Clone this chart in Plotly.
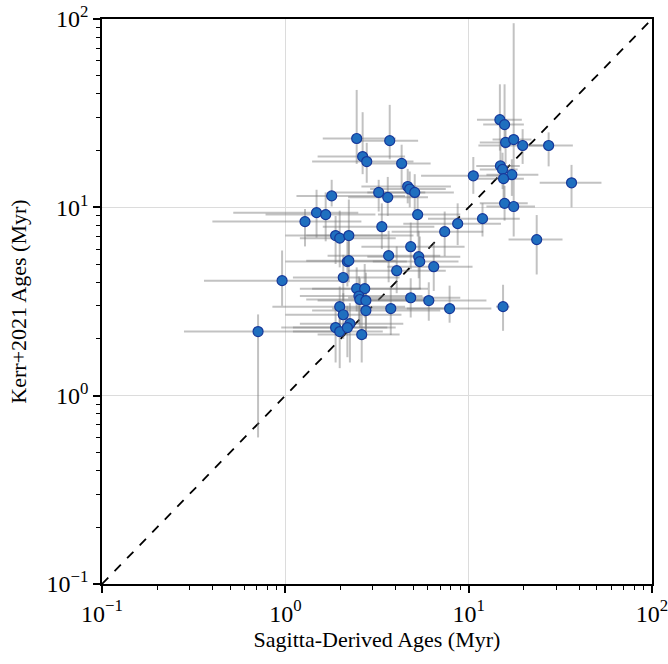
import numpy as np
import plotly.graph_objects as go

# Sagitta-derived ages (Myr) and Kerr+2021 ages (Myr)
sagitta_age = [0.71, 0.96, 1.28, 1.48, 1.66, 1.79, 1.88, 1.98, 2.22, 2.07, 2.18, 2.22,
               2.45, 3.71, 2.64, 2.78, 4.31, 3.23, 3.62, 4.65, 4.77, 5.08, 3.36, 5.27,
               3.66, 4.05, 4.83, 5.34, 5.41, 6.45, 7.40, 8.71, 10.6, 11.9, 14.8, 15.7,
               15.9, 17.6, 19.7, 27.3, 14.9, 15.3, 17.2, 15.5, 36.4, 15.7, 17.6, 23.5,
               7.87, 15.4, 2.45, 2.71, 2.52, 2.55, 2.75, 4.83, 6.06, 1.98, 2.07, 2.75,
               3.76, 1.88, 1.98, 2.25, 2.18, 2.61]
kerr_age = [2.19, 4.08, 8.40, 9.37, 9.15, 11.5, 7.08, 6.86, 7.08, 4.24, 5.15, 5.21,
            23.2, 22.6, 18.6, 17.5, 17.1, 12.0, 11.3, 12.9, 12.5, 12.0, 7.89, 9.15,
            5.54, 4.61, 6.18, 5.47, 5.15, 4.84, 7.43, 8.19, 14.7, 8.71, 29.2, 27.5,
            22.1, 22.9, 21.3, 21.3, 16.6, 15.9, 14.9, 14.2, 13.5, 10.5, 10.1, 6.74,
            2.90, 2.97, 3.70, 3.70, 3.38, 3.24, 3.20, 3.31, 3.20, 2.97, 2.69, 2.83,
            2.90, 2.30, 2.19, 2.41, 2.30, 2.11]
sagitta_lo = [0.28, 0.36, 0.40, 0.52, 0.78, 1.15, 1.0, 1.2, 1.3, 1.1, 1.0, 1.3,
              1.6, 2.5, 1.5, 1.4, 2.7, 1.8, 2.2, 2.6, 2.9, 2.8, 1.6, 3.2,
              1.7, 2.2, 2.6, 2.8, 3.0, 3.6, 3.8, 4.4, 5.5, 6.0, 11.1, 12.0,
              11.5, 13.5, 11.3, 19.0, 11.0, 11.5, 12.5, 11.0, 24.4, 11.5, 12.5, 16.5,
              4.6, 14.1, 1.2, 1.4, 1.2, 1.3, 1.5, 2.2, 2.8, 0.85, 1.0, 1.4,
              1.8, 0.95, 1.1, 1.2, 1.1, 1.5]
sagitta_hi = [1.9, 2.0, 2.6, 2.5, 3.1, 4.5, 3.6, 4.0, 5.0, 4.2, 4.6, 4.0,
              4.0, 5.3, 4.5, 5.0, 6.2, 5.8, 6.0, 8.0, 7.5, 8.3, 6.5, 9.0,
              7.0, 7.5, 9.5, 9.0, 8.8, 10.5, 12.0, 15.0, 16.0, 19.0, 19.5, 20.0,
              20.0, 22.0, 27.0, 37.0, 19.0, 18.5, 24.0, 20.0, 53.0, 21.0, 23.0, 32.5,
              13.3, 16.7, 5.5, 6.0, 5.6, 6.2, 6.5, 9.0, 12.5, 4.5, 4.3, 7.0,
              8.0, 3.6, 3.4, 4.4, 4.0, 4.2]
kerr_lo = [0.60, 3.0, 6.2, 6.9, 6.6, 10.1, 5.0, 4.8, 5.5, 3.2, 3.8, 4.0,
           17.0, 18.0, 15.0, 13.5, 12.5, 9.5, 9.0, 10.5, 10.0, 9.5, 6.0, 7.0,
           4.0, 3.5, 4.7, 4.2, 3.7, 3.6, 5.5, 6.3, 11.8, 7.0, 20.0, 20.5,
           17.0, 14.5, 17.0, 16.5, 13.5, 12.5, 11.5, 11.0, 10.0, 8.5, 7.0, 4.4,
           2.44, 2.21, 2.8, 2.6, 2.4, 2.3, 2.2, 2.6, 2.5, 2.2, 2.0, 2.0,
           2.1, 1.5, 1.4, 1.5, 1.6, 1.5]
kerr_hi = [2.7, 5.9, 9.8, 12.4, 12.0, 14.0, 9.0, 9.6, 11.0, 5.6, 6.6, 7.0,
           42.0, 35.0, 32.0, 22.0, 21.5, 14.0, 14.5, 16.0, 15.5, 15.0, 10.5, 12.5,
           7.5, 6.2, 8.3, 7.5, 7.0, 6.5, 9.5, 10.5, 18.5, 10.5, 45.0, 45.0,
           28.0, 95.0, 26.0, 25.0, 21.0, 19.5, 18.0, 17.5, 16.8, 13.0, 14.0, 9.1,
           3.84, 3.88, 4.8, 5.0, 4.3, 4.2, 4.5, 4.2, 4.0, 3.8, 3.5, 3.6,
           3.8, 2.9, 2.8, 3.1, 3.0, 2.7]

x = np.array(sagitta_age)
y = np.array(kerr_age)

fig = go.Figure()

# 1:1 line
fig.add_trace(go.Scatter(x=[0.1, 100], y=[0.1, 100], mode="lines",
                         line=dict(color="black", width=1.8, dash="dash"),
                         showlegend=False, hoverinfo="skip"))

fig.add_trace(go.Scatter(
    x=x, y=y, mode="markers",
    marker=dict(size=10, color="#1f6fbf", line=dict(color="#16389a", width=1.2)),
    error_x=dict(type="data", symmetric=False,
                 array=np.array(sagitta_hi) - x, arrayminus=x - np.array(sagitta_lo),
                 color="rgba(120,120,120,0.45)", thickness=2, width=0),
    error_y=dict(type="data", symmetric=False,
                 array=np.array(kerr_hi) - y, arrayminus=y - np.array(kerr_lo),
                 color="rgba(120,120,120,0.45)", thickness=2, width=0),
    showlegend=False))

major = [0.1, 1, 10, 100]
major_text = ["10<sup>−1</sup>", "10<sup>0</sup>", "10<sup>1</sup>", "10<sup>2</sup>"]
minor_vals = [m * d for d in [0.1, 1, 10] for m in range(2, 10)]

axis_common = dict(
    type="log", range=[-1, 2], tickmode="array", tickvals=major, ticktext=major_text,
    ticks="outside", ticklen=7, tickwidth=1.5, tickcolor="black",
    showline=True, linecolor="black", linewidth=1.5, mirror=True,
    showgrid=True, gridcolor="#dcdcdc", gridwidth=1, zeroline=False,
    automargin=False, ticklabeloverflow="allow",
    tickfont=dict(family="Liberation Serif", size=24, color="black"),
    minor=dict(tickmode="array", tickvals=minor_vals, ticks="outside", ticklen=4,
               tickwidth=1, tickcolor="black", showgrid=False),
)

fig.update_xaxes(**axis_common,
                 title=dict(text="Sagitta-Derived Ages (Myr)",
                            font=dict(family="Liberation Serif", size=22, color="black"),
                            standoff=6))
fig.update_yaxes(**axis_common,
                 title=dict(text="Kerr+2021 Ages (Myr)",
                            font=dict(family="Liberation Serif", size=22, color="black"),
                            standoff=14))

fig.update_layout(width=668, height=664, margin=dict(l=102, r=16, t=19, b=80),
                  plot_bgcolor="white", paper_bgcolor="white")

# remove the page's default body margin so the figure fills the window
fig.write_html("out.html", config={"displayModeBar": False},
               post_script="document.body.style.margin='0';")
